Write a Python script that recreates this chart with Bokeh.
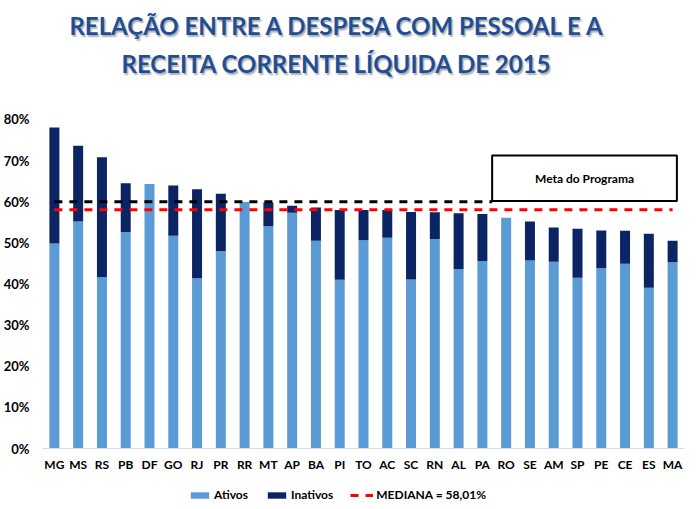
from bokeh.plotting import figure
from bokeh.layouts import column
from bokeh.models import (FactorRange, Range1d, Label, BoxAnnotation, Legend, LegendItem,
                          PrintfTickFormatter, FixedTicker, ColumnDataSource, Div)
from bokeh.embed import file_html
from bokeh.resources import INLINE

# ---- data (percent of RCL) ----
states = ["MG", "MS", "RS", "PB", "DF", "GO", "RJ", "PR", "RR", "MT", "AP", "BA", "PI", "TO",
          "AC", "SC", "RN", "AL", "PA", "RO", "SE", "AM", "SP", "PE", "CE", "ES", "MA"]
ativos = [49.8, 55.2, 41.7, 52.6, 64.3, 51.7, 41.4, 48.0, 59.9, 54.0, 57.3, 50.5, 41.0, 50.6,
          51.2, 41.1, 50.9, 43.6, 45.6, 56.1, 45.7, 45.4, 41.5, 43.8, 44.9, 39.1, 45.3]
inativos = [28.2, 18.4, 29.1, 11.9, 0.0, 12.2, 21.6, 13.9, 0.0, 5.8, 1.7, 8.1, 17.0, 7.4,
            6.8, 16.4, 6.5, 13.6, 11.4, 0.0, 9.5, 8.3, 11.9, 9.2, 8.0, 13.1, 5.2]
mediana = 58.01
meta = 60.0
y_ticks = [0, 10, 20, 30, 40, 50, 60, 70, 80]
title_lines = ["RELAÇÃO ENTRE A DESPESA COM PESSOAL E A", "RECEITA CORRENTE LÍQUIDA DE 2015"]
legend_labels = ["Ativos", "Inativos", "MEDIANA = 58,01%"]

C_AT = "#5B9BD5"
C_IN = "#0B2463"
C_MED = "#FF0000"
TITLE_C = "#1F4E96"
FONT = "Lato"

src = ColumnDataSource(dict(state=states, ativos=ativos, inativos=inativos))

title = Div(text="<br>".join(title_lines), width=684, height=92,
            styles={"font-family": FONT, "font-weight": "bold", "font-size": "24px",
                    "color": TITLE_C, "text-align": "center", "line-height": "38px",
                    "text-shadow": "1.5px 1.5px 1.5px rgba(120,120,120,0.6)",
                    "width": "684px", "padding-top": "2px", "padding-right": "22px",
                    "box-sizing": "border-box"})

p = figure(width=684, height=372, x_range=FactorRange(*states, range_padding=0),
           y_range=Range1d(0, 84.1), output_backend="svg", toolbar_location=None,
           min_border_left=42, min_border_right=0, min_border_top=0, min_border_bottom=26)
p.outline_line_color = None
p.grid.visible = False

p.vbar_stack(["ativos", "inativos"], x="state", width=0.42, source=src,
             color=[C_AT, C_IN], line_color=None)

# meta (black) and median (red) lines
box_left = 18.91
box_right = 26.68
p.line(x=[0.5, box_left], y=[meta, meta], line_color="black", line_width=3, line_dash="8 7")
p.line(x=[0.5, len(states) - 0.5], y=[mediana, mediana], line_color=C_MED,
       line_width=3, line_dash="8 7")

box = BoxAnnotation(left=box_left, right=box_right, bottom=60.15, top=71.2,
                    fill_color="white", fill_alpha=1, line_color="black", line_alpha=1,
                    line_width=2)
p.add_layout(box)
p.add_layout(Label(x=(box_left + box_right) / 2, y=65.6, text="Meta do Programa",
                   text_align="center", text_baseline="middle", text_font=FONT,
                   text_font_style="bold", text_font_size="12px", text_color="black"))

# axes
p.yaxis.ticker = FixedTicker(ticks=y_ticks)
p.yaxis.formatter = PrintfTickFormatter(format="%d%%")
p.yaxis.axis_line_color = None
p.yaxis.major_tick_line_color = None
p.yaxis.minor_tick_line_color = None
p.yaxis.major_tick_out = 0
p.yaxis.major_tick_in = 0
p.yaxis.minor_tick_out = 0
p.yaxis.major_label_standoff = 13
p.yaxis.major_label_text_font = FONT
p.yaxis.major_label_text_font_style = "bold"
p.yaxis.major_label_text_font_size = "13px"
p.yaxis.major_label_text_color = "black"

p.xaxis.axis_line_color = "#D9D9D9"
p.xaxis.major_tick_line_color = None
p.xaxis.major_tick_out = 0
p.xaxis.major_tick_in = 0
p.xaxis.major_label_standoff = 8
p.xaxis.major_label_text_font = FONT
p.xaxis.major_label_text_font_style = "bold"
p.xaxis.major_label_text_font_size = "12px"
p.xaxis.major_label_text_color = "black"

# legend in its own strip
lf = figure(width=684, height=29, x_range=Range1d(0, 1), y_range=Range1d(0, 1),
            output_backend="svg", toolbar_location=None, min_border=0,
            min_border_left=42, min_border_right=0,
            x_axis_type=None, y_axis_type=None)
lf.outline_line_color = None
lf.grid.visible = False
r1 = lf.vbar(x=[5], top=[5], width=0.1, color=C_AT, line_color=None)
r2 = lf.vbar(x=[5], top=[5], width=0.1, color=C_IN, line_color=None)
r3 = lf.line(x=[5, 6], y=[5, 5], line_color=C_MED, line_width=3, line_dash="8 7")
legend = Legend(items=[LegendItem(label=legend_labels[0], renderers=[r1]),
                       LegendItem(label=legend_labels[1], renderers=[r2]),
                       LegendItem(label=legend_labels[2], renderers=[r3])],
                orientation="horizontal", location=(146, 1), padding=0, margin=0,
                spacing=17, glyph_width=23, glyph_height=8, label_standoff=3,
                border_line_color=None, background_fill_alpha=0,
                label_text_font=FONT, label_text_font_style="bold",
                label_text_font_size="12px", label_text_color="black")
lf.add_layout(legend, "center")

layout = column(title, p, lf, spacing=0)
open("out.html", "w").write(file_html(layout, INLINE))
